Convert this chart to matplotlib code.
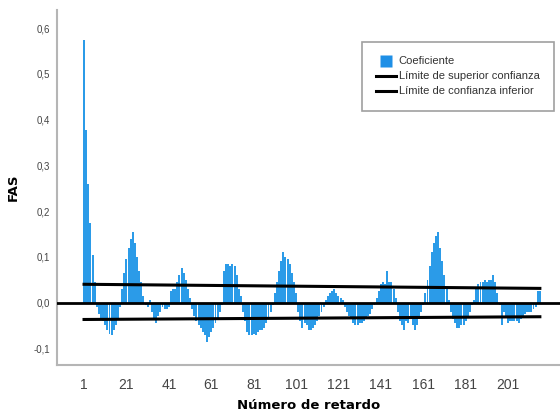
import numpy as np
import matplotlib
matplotlib.use('Agg')
import matplotlib.pyplot as plt
from matplotlib.lines import Line2D
from matplotlib.ticker import FuncFormatter

# === DATOS ===
fas = [
    0.574, 0.378, 0.26, 0.175, 0.105, 0.045, -0.01, -0.025, -0.035, -0.04,
    -0.05, -0.06, -0.068, -0.07, -0.06, -0.05, -0.035, -0.01, 0.03, 0.065,
    0.095, 0.12, 0.14, 0.155, 0.13, 0.1, 0.07, 0.045, 0.015, -0.005,
    -0.01, 0.005, -0.02, -0.035, -0.045, -0.03, -0.02, -0.01, -0.015, -0.015,
    -0.01, 0.025, 0.03, 0.03, 0.045, 0.06, 0.075, 0.065, 0.05, 0.03,
    0.01, -0.015, -0.03, -0.04, -0.05, -0.055, -0.065, -0.07, -0.087, -0.075,
    -0.065, -0.055, -0.045, -0.035, -0.02, -0.005, 0.07, 0.085, 0.085, 0.08,
    0.085, 0.08, 0.06, 0.03, 0.015, -0.02, -0.04, -0.065, -0.07, -0.07,
    -0.068, -0.07, -0.065, -0.06, -0.06, -0.055, -0.045, -0.035, -0.02, -0.005,
    0.02, 0.045, 0.07, 0.09, 0.11, 0.1, 0.095, 0.085, 0.065, 0.045,
    0.02, -0.02, -0.04, -0.055, -0.045, -0.05, -0.06, -0.06, -0.055, -0.05,
    -0.04, -0.03, -0.02, -0.01, 0.005, 0.015, 0.02, 0.025, 0.03, 0.02,
    0.015, 0.01, 0.005, -0.01, -0.02, -0.03, -0.035, -0.045, -0.05, -0.048,
    -0.045, -0.045, -0.04, -0.035, -0.03, -0.025, -0.015, -0.005, 0.01, 0.025,
    0.04, 0.045, 0.04, 0.07, 0.045, 0.045, 0.03, 0.01, -0.02, -0.04,
    -0.05, -0.06, -0.04, -0.045, -0.035, -0.05, -0.06, -0.05, -0.035, -0.02,
    -0.005, 0.02, 0.05, 0.08, 0.11, 0.13, 0.145, 0.155, 0.12, 0.09,
    0.06, 0.035, 0.005, -0.02, -0.035, -0.045, -0.055, -0.055, -0.05, -0.05,
    -0.04, -0.03, -0.02, -0.005, 0.005, 0.03, 0.04, 0.045, 0.045, 0.05,
    0.045, 0.05, 0.05, 0.06, 0.045, 0.02, -0.005, -0.05, -0.02, -0.03,
    -0.045, -0.04, -0.04, -0.04, -0.04, -0.045, -0.035, -0.03, -0.025, -0.02,
    -0.02, -0.02, -0.015, -0.01, 0.025, 0.025,
]
limite_sup = [0.040, 0.031]   # inicio, fin
limite_inf = [-0.037, -0.031]
ticks_x = [1, 21, 41, 61, 81, 101, 121, 141, 161, 181, 201]
ticks_y = [-0.1, 0.0, 0.1, 0.2, 0.3, 0.4, 0.5, 0.6]

retardos = np.arange(1, len(fas) + 1)

plt.rcParams['font.family'] = ['Liberation Sans', 'DejaVu Sans']

fig = plt.figure(figsize=(5.6, 4.15), dpi=100)
ax = fig.add_axes([0.102, 0.12, 0.898, 0.856])

ax.bar(retardos, fas, width=0.92, color='#2b9be8', edgecolor='none', zorder=2)
ax.axhline(0, color='black', lw=2, zorder=3)
ax.plot([retardos[0], retardos[-1]], limite_sup, color='black', lw=2.2, zorder=3)
ax.plot([retardos[0], retardos[-1]], limite_inf, color='black', lw=2.2, zorder=3)

ax.set_xlim(-11.7, 225.5)
ax.set_ylim(-0.137, 0.64)
ax.set_xticks(ticks_x)
ax.set_yticks(ticks_y)
ax.yaxis.set_major_formatter(FuncFormatter(lambda v, p: f'{v:.1f}'.replace('.', ',')))
ax.tick_params(axis='x', length=0, pad=9, labelsize=10, labelcolor='#444444')
ax.tick_params(axis='y', length=0, pad=5, labelsize=7, labelcolor='#444444')

for s in ['top', 'right']:
    ax.spines[s].set_visible(False)
for s in ['left', 'bottom']:
    ax.spines[s].set_color('#b5b5b5')
    ax.spines[s].set_linewidth(1.5)

ax.set_xlabel('Número de retardo', fontsize=9.5, fontweight='bold', family='DejaVu Sans', labelpad=5)
ax.set_ylabel('FAS', fontsize=9.5, fontweight='bold', family='DejaVu Sans', labelpad=10)

handles = [
    Line2D([], [], ls='none', marker='s', markersize=8, markerfacecolor='#1e8fe6', markeredgecolor='none'),
    Line2D([], [], color='black', lw=2.2),
    Line2D([], [], color='black', lw=2.2),
]
etiquetas = ['Coeficiente', 'Límite de superior confianza', 'Límite de confianza inferior']
leg = fig.legend(handles, etiquetas, loc='upper left', bbox_to_anchor=(362 / 560, 1 - 42 / 415),
                 fontsize=8, frameon=True, fancybox=False, edgecolor='#888888',
                 handlelength=1.8, handletextpad=0.2, labelspacing=0.45,
                 borderpad=1.3, borderaxespad=0)
for t in leg.get_texts():
    t.set_color('#333333')
leg.get_frame().set_linewidth(1.2)

plt.savefig('out.png', dpi=100)
